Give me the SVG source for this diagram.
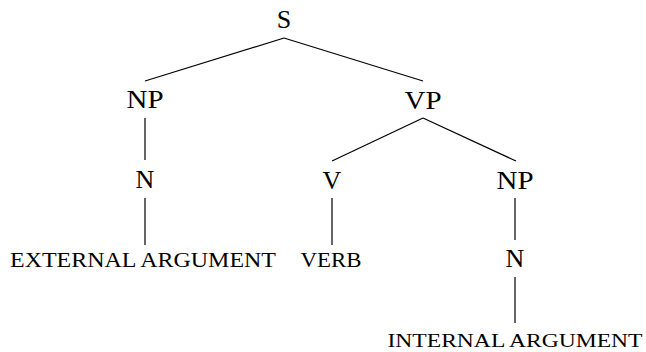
<svg xmlns="http://www.w3.org/2000/svg" width="646" height="352" viewBox="0 0 646 352">
<style>
.lbl{font-family:"Liberation Serif","DejaVu Serif",serif;font-size:26px;fill:#000;text-anchor:middle}
.sc{font-family:"Liberation Serif","DejaVu Serif",serif;font-size:20px;fill:#000;text-anchor:middle}
.edge{stroke:#000;stroke-width:1.2;fill:none}
</style>
<rect width="646" height="352" fill="#fff"/>
<g id="connectors">
<line class="edge" x1="284" y1="38" x2="145" y2="81"/>
<line class="edge" x1="284" y1="38" x2="423" y2="81"/>
<line class="edge" x1="145" y1="118" x2="145" y2="160"/>
<line class="edge" x1="145" y1="198" x2="145" y2="245"/>
<line class="edge" x1="423" y1="118" x2="332" y2="161"/>
<line class="edge" x1="423" y1="118" x2="516" y2="161"/>
<line class="edge" x1="332" y1="198" x2="332" y2="245"/>
<line class="edge" x1="515" y1="198" x2="515" y2="240"/>
<line class="edge" x1="515" y1="277" x2="515" y2="323"/>
</g>
<g id="S"><text class="lbl" x="284" y="28">S</text></g>
<g id="NP1"><text class="lbl" x="145" y="108" textLength="37" lengthAdjust="spacingAndGlyphs">NP</text></g>
<g id="VP"><text class="lbl" x="423" y="109" textLength="37" lengthAdjust="spacingAndGlyphs">VP</text></g>
<g id="N1"><text class="lbl" x="145" y="188">N</text></g>
<g id="V"><text class="lbl" x="332" y="189">V</text></g>
<g id="NP2"><text class="lbl" x="515" y="189" textLength="37" lengthAdjust="spacingAndGlyphs">NP</text></g>
<g id="EXT"><text class="sc" x="143" y="267" textLength="266" lengthAdjust="spacingAndGlyphs">EXTERNAL ARGUMENT</text></g>
<g id="VERB"><text class="sc" x="331" y="267" textLength="61" lengthAdjust="spacingAndGlyphs">VERB</text></g>
<g id="N2"><text class="lbl" x="515" y="267">N</text></g>
<g id="INT"><text class="sc" x="515" y="347" style="font-size:19px" textLength="255" lengthAdjust="spacingAndGlyphs">INTERNAL ARGUMENT</text></g>
</svg>
